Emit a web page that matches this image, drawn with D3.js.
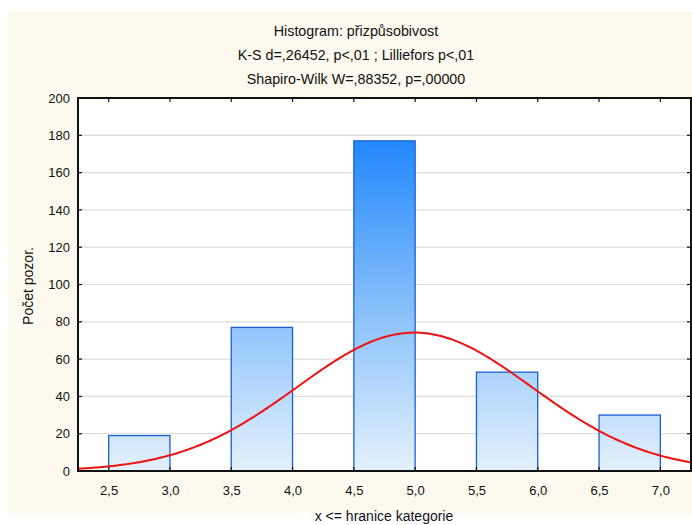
<!DOCTYPE html>
<html>
<head>
<meta charset="utf-8">
<script src="https://cdn.jsdelivr.net/npm/d3@7"></script>
<style>
  html, body { margin: 0; padding: 0; background: #ffffff; }
  svg { display: block; font-family: "Liberation Sans", Arial, sans-serif; }
</style>
</head>
<body>
<svg id="chart" width="692" height="525"></svg>
<script>
// Category values (upper bound of each class) and counts
const binStarts = [2.5, 3.5, 4.5, 5.5, 6.5];
const binEnds   = [3.0, 4.0, 5.0, 6.0, 7.0];
const counts    = [19, 77, 177, 53, 30];
const xTicks    = [2.5, 3.0, 3.5, 4.0, 4.5, 5.0, 5.5, 6.0, 6.5, 7.0];
const yTicks    = [0, 20, 40, 60, 80, 100, 120, 140, 160, 180, 200];
const titleLines = [
  "Histogram: přizpůsobivost",
  "K-S d=,26452, p<,01 ; Lilliefors p<,01",
  "Shapiro-Wilk W=,88352, p=,00000"
];

const W = 692, H = 525;
const plot = { left: 78, top: 98, right: 691, bottom: 471 };

const svg = d3.select("#chart");

// outer panel
svg.append("rect").attr("x", 8).attr("y", 12).attr("width", W - 8).attr("height", 501)
  .attr("fill", "#fdf9ee");

const x = d3.scaleLinear().domain([2.25, 7.25]).range([plot.left, plot.right]);
const y = d3.scaleLinear().domain([0, 200]).range([plot.bottom, plot.top]);

const defs = svg.append("defs");
const grad = defs.append("linearGradient").attr("id", "barGrad")
  .attr("gradientUnits", "userSpaceOnUse")
  .attr("x1", 0).attr("x2", 0).attr("y1", y(180)).attr("y2", y(0));
grad.append("stop").attr("offset", "0%").attr("stop-color", "#1f86fc");
grad.append("stop").attr("offset", "55%").attr("stop-color", "#8ec3fb");
grad.append("stop").attr("offset", "100%").attr("stop-color", "#e4f1fd");

// plot area
svg.append("rect").attr("x", plot.left).attr("y", plot.top)
  .attr("width", plot.right - plot.left).attr("height", plot.bottom - plot.top)
  .attr("fill", "#ffffff");

// horizontal grid
svg.append("g").selectAll("line").data(yTicks.filter(d => d > 0 && d < 200)).join("line")
  .attr("x1", plot.left).attr("x2", plot.right)
  .attr("y1", d => y(d)).attr("y2", d => y(d))
  .attr("stroke", "#dcdcdc").attr("stroke-width", 1.2);

// bars
svg.append("g").selectAll("rect").data(counts).join("rect")
  .attr("x", (d, i) => x(binStarts[i]))
  .attr("y", d => y(d))
  .attr("width", (d, i) => x(binEnds[i]) - x(binStarts[i]))
  .attr("height", d => y(0) - y(d))
  .attr("fill", "url(#barGrad)")
  .attr("stroke", "#1a5fd8").attr("stroke-width", 1.3);

// fitted normal curve from the class data
const N = d3.sum(counts);
const mids = binEnds;
const mean = d3.sum(counts.map((c, i) => c * mids[i])) / N;
const sd = Math.sqrt(d3.sum(counts.map((c, i) => c * (mids[i] - mean) ** 2)) / N);
const binW = 0.5;
const curvePts = d3.range(2.25, 7.2501, 0.02).map(v => [v,
  N * binW * Math.exp(-0.5 * ((v - mean) / sd) ** 2) / (sd * Math.sqrt(2 * Math.PI))]);
svg.append("path").datum(curvePts)
  .attr("d", d3.line().x(d => x(d[0])).y(d => y(d[1])))
  .attr("fill", "none").attr("stroke", "#f01010").attr("stroke-width", 2);

// frame
svg.append("rect").attr("x", plot.left).attr("y", plot.top)
  .attr("width", plot.right - plot.left).attr("height", plot.bottom - plot.top)
  .attr("fill", "none").attr("stroke", "#111").attr("stroke-width", 2);

// axes
const yAxis = d3.axisLeft(y).tickValues(yTicks).tickSize(0).tickPadding(8);
svg.append("g").attr("transform", `translate(${plot.left},0)`).call(yAxis)
  .call(g => g.select(".domain").remove())
  .selectAll("text").attr("font-size", 13).attr("fill", "#111")
  .attr("font-family", "Liberation Sans, Arial, sans-serif");

const xAxis = d3.axisBottom(x).tickValues(xTicks).tickSize(0).tickPadding(15)
  .tickFormat(d => d3.format(".1f")(d).replace(".", ","));
svg.append("g").attr("transform", `translate(0,${plot.bottom})`).call(xAxis)
  .call(g => g.select(".domain").remove())
  .selectAll("text").attr("font-size", 13).attr("fill", "#111")
  .attr("font-family", "Liberation Sans, Arial, sans-serif");

// inner tick marks
const tk = svg.append("g").attr("stroke", "#111").attr("stroke-width", 1.2);
yTicks.forEach(v => {
  tk.append("line").attr("x1", plot.left).attr("x2", plot.left + 4).attr("y1", y(v)).attr("y2", y(v));
  tk.append("line").attr("x1", plot.right).attr("x2", plot.right - 4).attr("y1", y(v)).attr("y2", y(v));
});
xTicks.forEach(v => {
  tk.append("line").attr("x1", x(v)).attr("x2", x(v)).attr("y1", plot.top).attr("y2", plot.top + 4);
  tk.append("line").attr("x1", x(v)).attr("x2", x(v)).attr("y1", plot.bottom).attr("y2", plot.bottom - 4);
});

// titles
svg.append("g").selectAll("text").data(titleLines).join("text")
  .attr("x", 356).attr("y", (d, i) => 36 + i * 24)
  .attr("text-anchor", "middle").attr("font-size", 14.3).attr("fill", "#111")
  .text(d => d);

svg.append("text").attr("x", 384).attr("y", 521)
  .attr("text-anchor", "middle").attr("font-size", 14).attr("fill", "#111")
  .text("x <= hranice kategorie");

svg.append("text").attr("transform", `translate(33,286) rotate(-90)`)
  .attr("text-anchor", "middle").attr("font-size", 14).attr("fill", "#111")
  .text("Počet pozor.");
</script>
</body>
</html>
